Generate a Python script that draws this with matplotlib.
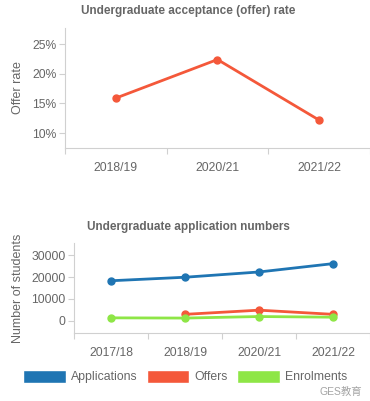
import matplotlib.pyplot as plt
import numpy as np
from matplotlib.patches import Patch
from matplotlib.ticker import FuncFormatter

# offer rate chart
rate_years = ["2018/19", "2020/21", "2021/22"]
offer_rate = [15.9, 22.4, 12.2]

# application numbers chart
app_years = ["2017/18", "2018/19", "2020/21", "2021/22"]
applications = [18300, 19900, 22300, 26100]
offers = [np.nan, 3000, 4900, 3000]
enrolments = [1400, 1300, 2000, 1700]

grey_txt = "#666666"
spine_c = "#d0d0d0"
blue = "#1f75b3"
red = "#f4583a"
green = "#8ee646"

plt.rcParams['font.family'] = ['Liberation Sans', 'DejaVu Sans']

fig = plt.figure(figsize=(3.70, 4.01), dpi=100)


def style_axes(ax, cats):
    n = len(cats)
    ax.set_xlim(-0.5, n - 0.5)
    ax.set_xticks(np.arange(n + 1) - 0.5)
    ax.set_xticklabels([])
    ax.set_xticks(np.arange(n), minor=True)
    ax.set_xticklabels(cats, minor=True)
    ax.tick_params(axis="x", which="major", length=4, color=spine_c, width=0.8)
    ax.tick_params(axis="x", which="minor", length=0, pad=10,
                   labelsize=8.7, labelcolor=grey_txt)
    ax.tick_params(axis="y", length=4, color=spine_c, width=0.8,
                   labelsize=8.7, labelcolor=grey_txt, pad=2)
    for s in ["top", "right"]:
        ax.spines[s].set_visible(False)
    for s in ["left", "bottom"]:
        ax.spines[s].set_color(spine_c)
        ax.spines[s].set_linewidth(0.8)


# top chart
ax1 = fig.add_axes([0.1757, 0.631, 0.824, 0.299])
x1 = np.arange(len(rate_years))
ax1.plot(x1, offer_rate, color=red, lw=2, marker="o", ms=5)
ax1.set_ylim(7.5, 27.7)
ax1.set_yticks([10, 15, 20, 25])
ax1.yaxis.set_major_formatter(FuncFormatter(lambda v, p: "%d%%" % v))
style_axes(ax1, rate_years)
ax1.set_ylabel("Offer rate", fontsize=9, color=grey_txt, labelpad=6)
fig.text(0.508, 0.972, "Undergraduate acceptance (offer) rate", ha="center",
         va="center", fontsize=8.5, fontweight="bold", color=grey_txt)

# bottom chart
ax2 = fig.add_axes([0.2, 0.1696, 0.8, 0.2244])
x2 = np.arange(len(app_years))
ax2.plot(x2, applications, color=blue, lw=2, marker="o", ms=5)
ax2.plot(x2, offers, color=red, lw=2, marker="o", ms=5)
ax2.plot(x2, enrolments, color=green, lw=2, marker="o", ms=5)
ax2.set_ylim(-5500, 35500)
ax2.set_yticks([0, 10000, 20000, 30000])
style_axes(ax2, app_years)
ax2.set_ylabel("Number of students", fontsize=9, color=grey_txt, labelpad=5)
fig.text(0.508, 0.434, "Undergraduate application numbers", ha="center",
         va="center", fontsize=8.5, fontweight="bold", color=grey_txt)

handles = [Patch(facecolor=blue, edgecolor="white", label="Applications"),
           Patch(facecolor=red, edgecolor="white", label="Offers"),
           Patch(facecolor=green, edgecolor="white", label="Enrolments")]
leg = fig.legend(handles=handles, loc="center", bbox_to_anchor=(0.5, 0.061),
                 ncol=3, frameon=False, fontsize=8.8, handlelength=3.5,
                 handleheight=1.3, handletextpad=0.4, columnspacing=0.75)
for t in leg.get_texts():
    t.set_color(grey_txt)

# watermark
fig.text(0.98, 0.022, "GES教育", ha="right", va="center", fontsize=7.5,
         color="#9a9a9a", alpha=0.9,
         family=["Liberation Sans", "Noto Sans CJK SC"])

fig.savefig("out.png", dpi=100)
